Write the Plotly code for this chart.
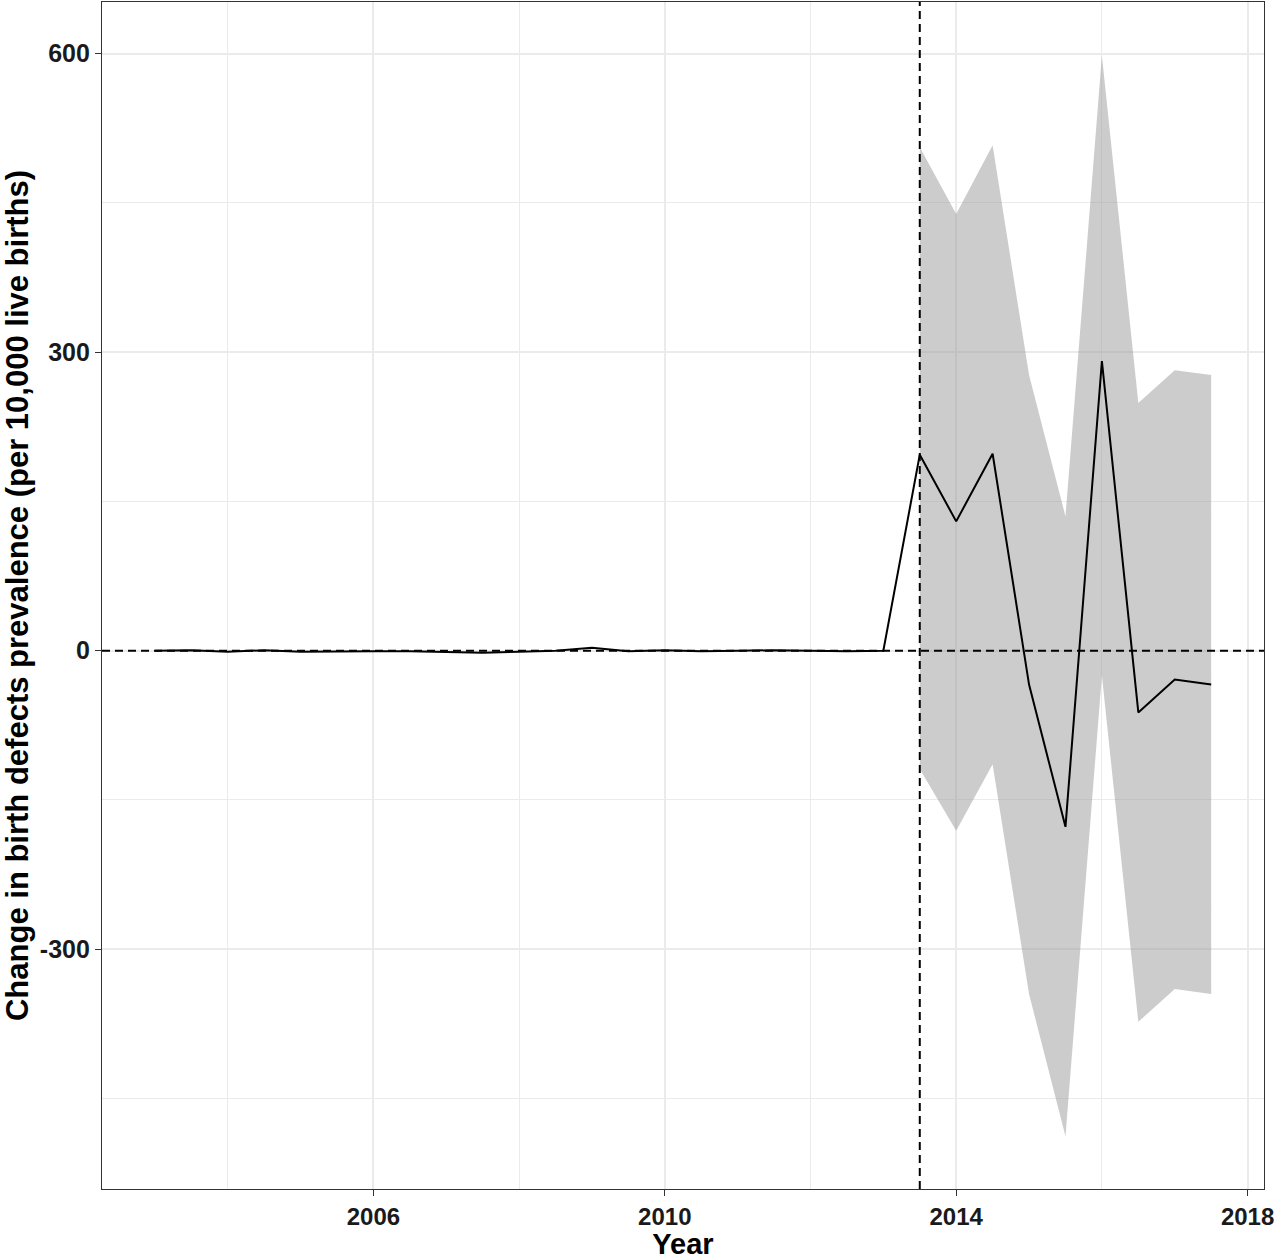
import plotly.graph_objects as go

years = [2003.0, 2003.5, 2004.0, 2004.5, 2005.0, 2005.5, 2006.0, 2006.5, 2007.0, 2007.5,
         2008.0, 2008.5, 2009.0, 2009.5, 2010.0, 2010.5, 2011.0, 2011.5, 2012.0, 2012.5,
         2013.0, 2013.5, 2014.0, 2014.5, 2015.0, 2015.5, 2016.0, 2016.5, 2017.0, 2017.5]
estimate = [0, 0.5, -1, 0.5, -1, -0.5, -0.5, -0.5, -1, -2,
            -1, 0, 3, -0.5, 0.5, -0.5, 0, 0.5, 0, -0.5,
            0, 197, 130, 198, -34, -177, 291, -62, -29, -34]

ci_years = [2013.5, 2014.0, 2014.5, 2015.0, 2015.5, 2016.0, 2016.5, 2017.0, 2017.5]
ci_upper = [506, 439, 508, 277, 135, 598, 249, 282, 277]
ci_lower = [-119, -181, -114, -345, -488, -25, -373, -340, -345]

intervention_year = 2013.5

x_ticks = [2006, 2010, 2014, 2018]
y_ticks = [-300, 0, 300, 600]

FONT = "Liberation Sans, Arial, sans-serif"

fig = go.Figure()
fig.add_trace(go.Scatter(x=ci_years, y=ci_upper, mode="lines", line=dict(width=0),
                         hoverinfo="skip", showlegend=False))
fig.add_trace(go.Scatter(x=ci_years, y=ci_lower, mode="lines", line=dict(width=0),
                         fill="tonexty", fillcolor="rgba(153,153,153,0.5)",
                         hoverinfo="skip", showlegend=False))
fig.add_trace(go.Scatter(x=years, y=estimate, mode="lines",
                         line=dict(color="black", width=2), showlegend=False))

fig.add_shape(type="line", xref="x", yref="paper", x0=intervention_year, x1=intervention_year,
              y0=0, y1=1, line=dict(color="black", width=2, dash="8px,5px"), layer="above")
fig.add_shape(type="line", xref="paper", yref="y", x0=0, x1=1, y0=0, y1=0,
              line=dict(color="black", width=2, dash="8px,5px"), layer="above")

fig.update_layout(
    width=1280, height=1260,
    margin=dict(l=102, r=16, t=1, b=68),
    plot_bgcolor="white", paper_bgcolor="white",
    font=dict(family=FONT, color="black"),
    xaxis=dict(
        range=[2002.275, 2018.225],
        tickvals=x_ticks, ticktext=[f"<b>{v}</b>" for v in x_ticks],
        tickfont=dict(size=24, color="#1a1a1a"),
        ticks="outside", ticklen=6, tickcolor="#333333", tickwidth=1.2,
        showgrid=True, gridcolor="#EBEBEB", gridwidth=1.8,
        minor=dict(tickvals=[2004, 2008, 2012, 2016], showgrid=True,
                   gridcolor="#EBEBEB", gridwidth=1),
        showline=True, linecolor="#333333", linewidth=1.2, mirror=True,
        zeroline=False,
        title=dict(text="<b>Year</b>", font=dict(size=29), standoff=9),
    ),
    yaxis=dict(
        range=[-541, 652],
        tickvals=y_ticks, ticktext=[f"<b>{v}</b>" for v in y_ticks],
        tickfont=dict(size=25, color="#1a1a1a"),
        ticks="outside", ticklen=6, tickcolor="#333333", tickwidth=1.2,
        showgrid=True, gridcolor="#EBEBEB", gridwidth=1.8,
        minor=dict(tickvals=[-450, -150, 150, 450], showgrid=True,
                   gridcolor="#EBEBEB", gridwidth=1),
        showline=True, linecolor="#333333", linewidth=1.2, mirror=True,
        zeroline=False,
        title=dict(text="<b>Change in birth defects prevalence (per 10,000 live births)</b>",
                   font=dict(size=31), standoff=6),
    ),
)

fig.write_html("out.html")
